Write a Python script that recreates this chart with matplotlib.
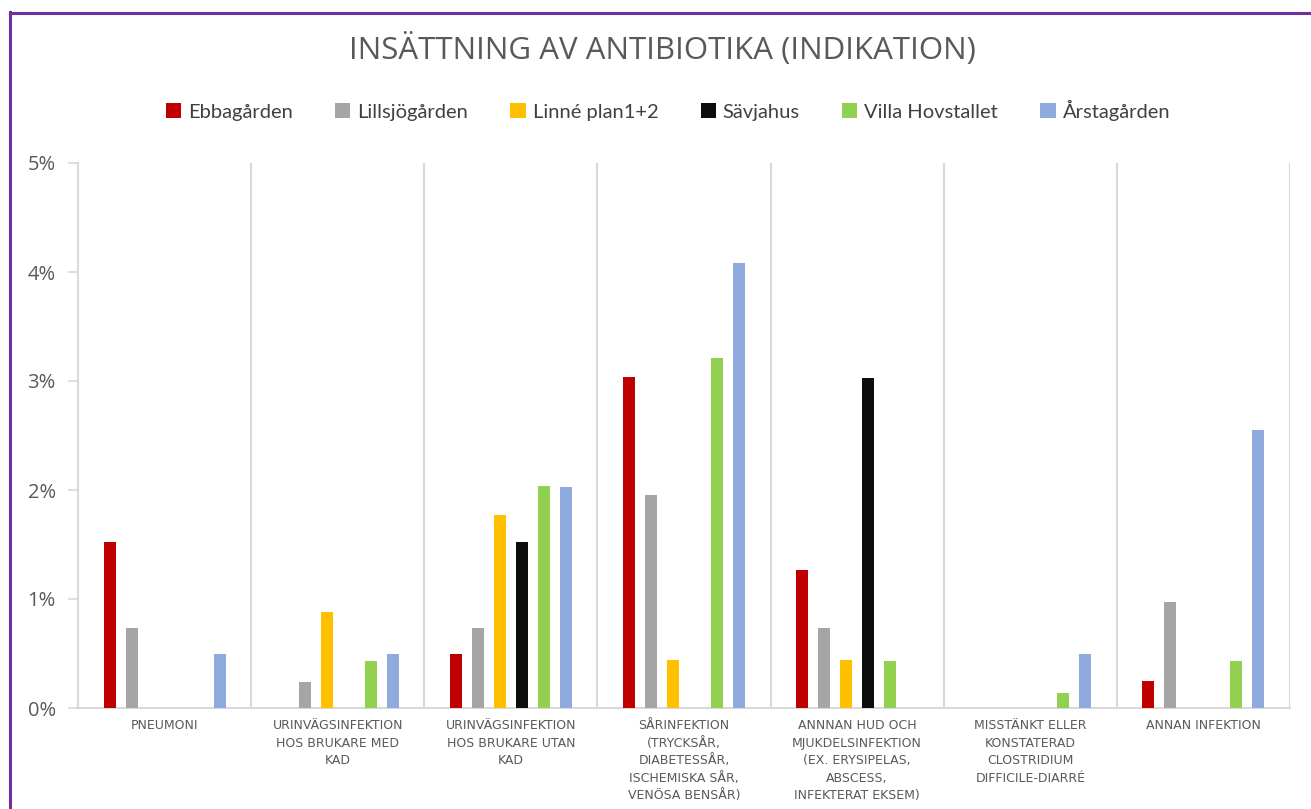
import matplotlib
matplotlib.use("Agg")
import matplotlib.pyplot as plt
from matplotlib.lines import Line2D
from matplotlib.ticker import FuncFormatter, FixedLocator
import numpy as np

categories = [
    "PNEUMONI",
    "URINVÄGSINFEKTION\nHOS BRUKARE MED\nKAD",
    "URINVÄGSINFEKTION\nHOS BRUKARE UTAN\nKAD",
    "SÅRINFEKTION\n(TRYCKSÅR,\nDIABETESSÅR,\nISCHEMISKA SÅR,\nVENÖSA BENSÅR)",
    "ANNNAN HUD OCH\nMJUKDELSINFEKTION\n(EX. ERYSIPELAS,\nABSCESS,\nINFEKTERAT EKSEM)",
    "MISSTÄNKT ELLER\nKONSTATERAD\nCLOSTRIDIUM\nDIFFICILE-DIARRÉ",
    "ANNAN INFEKTION",
]
series_names = ["Ebbagården", "Lillsjögården", "Linné plan1+2", "Sävjahus",
                "Villa Hovstallet", "Årstagården"]
ebbagarden = [1.52, 0.00, 0.50, 3.04, 1.27, 0.00, 0.25]
lillsjogarden = [0.73, 0.24, 0.73, 1.95, 0.73, 0.00, 0.97]
linne = [0.00, 0.88, 1.77, 0.44, 0.44, 0.00, 0.00]
savjahus = [0.00, 0.00, 1.52, 0.00, 3.03, 0.00, 0.00]
villa_hovstallet = [0.00, 0.43, 2.04, 3.21, 0.43, 0.14, 0.43]
arstagarden = [0.50, 0.50, 2.03, 4.08, 0.00, 0.50, 2.55]
yticks = [0, 1, 2, 3, 4, 5]

colors = ["#C00000", "#A5A5A5", "#FFC000", "#0D0D0D", "#92D050", "#8FAADC"]
all_series = [ebbagarden, lillsjogarden, linne, savjahus, villa_hovstallet, arstagarden]

plt.rcParams['font.family'] = ['Lato', 'DejaVu Sans']
W, H = 1311, 809
fig = plt.figure(figsize=(W / 100, H / 100), dpi=100)
ax = fig.add_axes([78 / W, 1 - 708 / H, (1290 - 78) / W, (708 - 163) / H])

x = np.arange(len(categories)) + 0.5
slot = 22 / 173
bw = 12 / 173
for i, (name, vals, c) in enumerate(zip(series_names, all_series, colors)):
    off = (i - 2.5) * slot
    ax.bar(x + off, vals, width=bw, color=c, label=name, zorder=3)

ax.set_xlim(0, len(categories))
ax.set_ylim(0, 5)
ax.set_yticks(yticks)
ax.yaxis.set_major_formatter(FuncFormatter(lambda v, p: f"{v:.0f}%"))
ax.tick_params(axis='y', length=7, width=1.2, color="#D9D9D9", labelsize=14.5,
               labelcolor="#595959", pad=9)
for t in ax.get_yticklabels():
    t.set_family(['Open Sans', 'DejaVu Sans'])

ax.set_xticks(x)
ax.set_xticklabels(categories, fontsize=9.0, color="#595959", linespacing=1.45,
                   multialignment='center', family=['DejaVu Sans'])
ax.tick_params(axis='x', length=0, pad=8)
ax.xaxis.set_minor_locator(FixedLocator(np.arange(1, len(categories) + 1)))
ax.tick_params(axis='x', which='minor', length=0)
ax.grid(axis='x', which='minor', color="#D9D9D9", lw=1.5, zorder=0)
ax.grid(False, which='major')

for s in ['top', 'right']:
    ax.spines[s].set_visible(False)
for s in ['left', 'bottom']:
    ax.spines[s].set_color("#D9D9D9")
    ax.spines[s].set_linewidth(1.5)

fig.text(662 / W, 1 - 50 / H, "INSÄTTNING AV ANTIBIOTIKA (INDIKATION)",
         ha='center', va='center', fontsize=22.5, color="#595959",
         family=['Open Sans', 'DejaVu Sans'])

leg = fig.legend(loc='center', bbox_to_anchor=(668 / W, 1 - 110 / H), ncol=6,
                 frameon=False, fontsize=14.5, handlelength=0.75, handleheight=0.75,
                 handletextpad=0.35, columnspacing=2.1)
for t in leg.get_texts():
    t.set_color("#404040")

purple = "#7030A0"
fig.add_artist(Line2D([9.5 / W, 9.5 / W], [0, 1 - 12 / H], color=purple, lw=2.2,
                      transform=fig.transFigure))
fig.add_artist(Line2D([9.5 / W, 1], [1 - 12.5 / H, 1 - 12.5 / H], color=purple, lw=2.2,
                      transform=fig.transFigure))

fig.savefig("out.png", dpi=100, facecolor="white")
